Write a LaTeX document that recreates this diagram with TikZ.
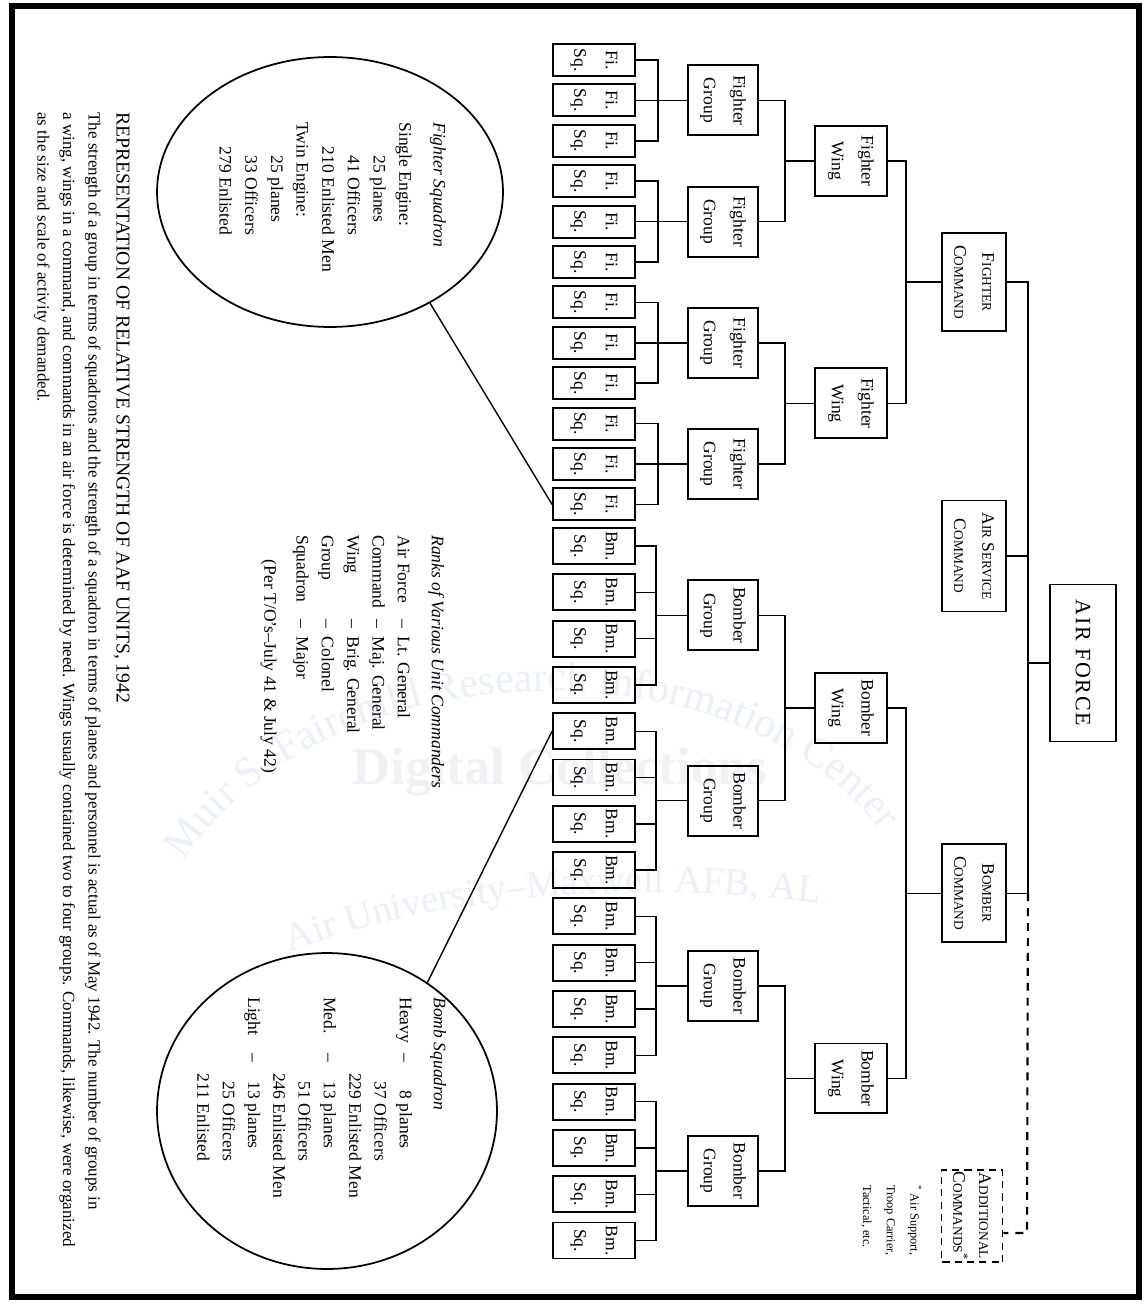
\documentclass[tikz,border=0pt]{standalone}
\usepackage{fontspec}
\setmainfont{Liberation Serif}
\newfontfamily\spacedfont[LetterSpace=8]{Liberation Serif}
\usetikzlibrary{calc,shapes.geometric,decorations.text}

\definecolor{wmark}{RGB}{236,240,248}
\definecolor{wgray}{RGB}{240,241,244}

% fake small capitals
\newcommand{\fsc}[2]{#1{\fontsize{7.6}{7.6}\selectfont #2}}

\tikzset{
  box/.style={draw, line width=1.1pt, rotate=-90, align=center, inner sep=1pt},
  sqbox/.style={box, minimum width=0.64cm, minimum height=1.64cm, font=\fontsize{10}{18}\selectfont},
  bmbox/.style={sqbox, minimum width=0.72cm},
  grpbox/.style={box, minimum width=1.4cm, minimum height=1.4cm, font=\fontsize{10}{17}\selectfont},
  wingbox/.style={grpbox, minimum height=1.44cm},
  cmdbox/.style={box, minimum height=1.28cm, font=\fontsize{10}{16}\selectfont},
  link/.style={line width=0.8pt},
  dlink/.style={line width=1.2pt, dash pattern=on 4.5pt off 4pt},
  oval/.style={draw, ellipse, line width=1pt, inner sep=0pt},
  note/.style={rotate=-90, anchor=north west, inner sep=0pt, align=left},
}

\begin{document}
\begin{tikzpicture}[x=0.02cm, y=-0.02cm]
  \useasboundingbox (0,0) rectangle (1146,1304);

  % watermark
  \node[text=wgray, font=\fontsize{30}{30}\selectfont\bfseries] (wm) at (560,772) {Digital Collections};
  \path[decorate, decoration={text along path, text align=center, text color=wmark,
      text={|\fontsize{24}{24}\selectfont|Muir S. Fairchild Research Information Center}}]
    (185,860) .. controls (330,640) and (740,640) .. (880,830);
  \path[decorate, decoration={text along path, text align=center, text color=wmark,
      text={|\fontsize{22}{22}\selectfont|Air University–Maxwell AFB, AL}}]
    (280,955) .. controls (450,890) and (650,880) .. (830,905);

  % frame
  \draw[line width=3.5pt] (12,6) rectangle (1139,1297);

  % squadrons
  \foreach \i in {1,...,12}
    \node[sqbox] (fs\i) at (594, {60+40.4*(\i-1)}) {Fi.\\Sq.};
  \foreach \i in {1,...,16}
    \node[bmbox] (bs\i) at (594, {546+46.3*(\i-1)}) {Bm.\\Sq.};

  % groups
  \foreach \k in {1,...,4} {
    \node[grpbox] (fg\k) at (723, {60+40.4*(3*\k-2)}) {Fighter\\Group};
    \node[grpbox] (bg\k) at (723, {546+46.3*(4*\k-2.5)}) {Bomber\\Group};
  }

  % wings
  \foreach \w in {1,2} {
    \node[wingbox] (fw\w) at (851, {60+40.4*(6*\w-3.5)}) {Fighter\\Wing};
    \node[wingbox] (bw\w) at (851, {546+46.3*(8*\w-4.5)}) {Bomber\\Wing};
  }

  % commands
  \node[cmdbox, minimum width=1.96cm] (fc) at (974,282.2) {\fsc{F}{IGHTER}\\\fsc{C}{OMMAND}};
  \node[cmdbox, minimum width=2.22cm] (asc) at (974,556) {\fsc{A}{IR} \fsc{S}{ERVICE}\\\fsc{C}{OMMAND}};
  \node[cmdbox, minimum width=1.96cm] (bc) at (974,893.2) {\fsc{B}{OMBER}\\\fsc{C}{OMMAND}};
  \node[box, minimum width=3.14cm, minimum height=1.32cm, font={\spacedfont\fontsize{12.5}{14}\selectfont}] (af) at (1083,663) {AIR FORCE};
  \node[box, dashed, dash pattern=on 4pt off 3pt, minimum width=1.66cm, minimum height=1.22cm,
        font=\fontsize{10}{14.7}\selectfont] (adc) at (972,1216) {\fsc{A}{DDITIONAL}\\\fsc{C}{OMMANDS}\textsuperscript{*}};

  % squadrons to groups
  \foreach \k in {1,...,4} {
    \pgfmathtruncatemacro\a{3*\k-2}
    \pgfmathtruncatemacro\b{3*\k-1}
    \pgfmathtruncatemacro\c{3*\k}
    \draw[link] (fs\a.north) -| ($(fs\b.north)+(22,0)$) |- (fs\c.north);
    \draw[link] (fs\b.north) -- (fg\k.south);
  }
  \foreach \k in {1,...,4} {
    \pgfmathtruncatemacro\a{4*\k-3}
    \pgfmathtruncatemacro\b{4*\k-2}
    \pgfmathtruncatemacro\c{4*\k-1}
    \pgfmathtruncatemacro\d{4*\k}
    \coordinate (bb\k) at ($(bg\k.south)-(31,0)$);
    \draw[link] (bs\a.north) -| (bb\k) |- (bs\d.north);
    \draw[link] (bs\b.north) -| (bb\k);
    \draw[link] (bs\c.north) -| (bb\k);
    \draw[link] (bb\k) -- (bg\k.south);
  }

  % groups to wings
  \foreach \w in {1,2} {
    \pgfmathtruncatemacro\a{2*\w-1}
    \pgfmathtruncatemacro\b{2*\w}
    \coordinate (fwb\w) at ($(fw\w.south)-(29,0)$);
    \coordinate (bwb\w) at ($(bw\w.south)-(29,0)$);
    \draw[link] (fg\a.north) -| (fwb\w) |- (fg\b.north);
    \draw[link] (fwb\w) -- (fw\w.south);
    \draw[link] (bg\a.north) -| (bwb\w) |- (bg\b.north);
    \draw[link] (bwb\w) -- (bw\w.south);
  }

  % wings to commands
  \coordinate (fcb) at ($(fc.south)-(35,0)$);
  \coordinate (bcb) at ($(bc.south)-(35,0)$);
  \draw[link] (fw1.north) -| (fcb) |- (fw2.north);
  \draw[link] (fcb) -- (fc.south);
  \draw[link] (bw1.north) -| (bcb) |- (bw2.north);
  \draw[link] (bcb) -- (bc.south);

  % commands to air force
  \coordinate (aft) at ($(fc.north)+(21,0)$);
  \coordinate (afb) at ($(bc.north)+(21,0)$);
  \draw[link] (fc.north) -- (aft) -- (afb) -- (bc.north);
  \draw[link] (asc.north) -- (asc.north -| aft);
  \draw[link] (af.south) -- (af.south -| aft);
  \coordinate (adj) at (1027,1233);
  \draw[dlink] (afb) -- (adj) -- (adj -| adc.north);
  \node[note, font=\fontsize{7}{13.5}\selectfont] (fnote) at (922,1185)
    {\textsuperscript{*} Air Support,\\ Troop Carrier,\\ Tactical, etc.};

  % fighter squadron oval
  \node[oval, minimum width=6.92cm, minimum height=5.4cm] (fse) at (330,192) {};
  \node[note, font=\fontsize{10}{14.6}\selectfont] (fstext) at (452,122) {%
    \begin{tabular}{@{\hspace{14pt}}r@{ }l@{}}
      \multicolumn{2}{@{}l}{\itshape Fighter Squadron}\\[5pt]
      \multicolumn{2}{@{}l}{Single Engine:}\\
      25 & planes\\
      41 & Officers\\
      210 & Enlisted Men\\
      \multicolumn{2}{@{}l}{Twin Engine:}\\
      25 & planes\\
      33 & Officers\\
      279 & Enlisted
    \end{tabular}};
  \draw[link] (fse.-48) -- (fs12.south);

  % ranks
  \node[note, font=\fontsize{10}{14.4}\selectfont] (ranks) at (450,535) {%
    \begin{tabular}{@{}l@{\hspace{6pt}}l@{\hspace{5pt}}l@{}}
      \multicolumn{3}{@{}l}{\itshape Ranks of Various Unit Commanders}\\[5pt]
      Air Force & -- & Lt. General\\
      Command & -- & Maj. General\\
      Wing & -- & Brig. General\\
      Group & -- & Colonel\\
      Squadron & -- & Major\\[4pt]
      \multicolumn{3}{@{\hspace{1.4em}}l}{(Per T/O's--July 41 \& July 42)}
    \end{tabular}};

  % bomb squadron oval
  \node[oval, minimum width=6.8cm, minimum height=6.32cm] (bse) at (327,1111) {};
  \node[note, font=\fontsize{10}{14.4}\selectfont] (bstext) at (452,997) {%
    \begin{tabular}{@{}l@{\hspace{6pt}}c@{\hspace{6pt}}r@{ }l@{}}
      \multicolumn{4}{@{}l}{\itshape Bomb Squadron}\\[5pt]
      Heavy & -- & 8 & planes\\
      & & 37 & Officers\\
      & & 229 & Enlisted Men\\
      Med. & -- & 13 & planes\\
      & & 51 & Officers\\
      & & 246 & Enlisted Men\\
      Light & -- & 13 & planes\\
      & & 25 & Officers\\
      & & 211 & Enlisted
    \end{tabular}};
  \draw[link] (bse.52) -- (bs5.south);

  % caption
  \node[note, font=\fontsize{11.2}{14}\selectfont] (title) at (130,112)
    {REPRESENTATION OF RELATIVE STRENGTH OF AAF UNITS, 1942};
  \node[note, font=\fontsize{9.7}{14.5}\selectfont] (body) at (101,112)
    {The strength of a group in terms of squadrons and the strength of a squadron in terms of planes and personnel is actual as of May 1942. The number of groups in\\
     a wing, wings in a command, and commands in an air force is determined by need. Wings usually contained two to four groups. Commands, likewise, were organized\\
     as the size and scale of activity demanded.};
\end{tikzpicture}
\end{document}
